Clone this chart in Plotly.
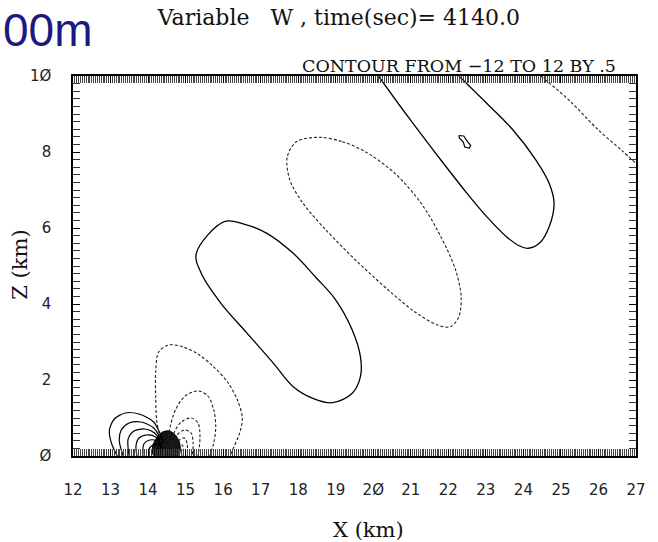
import plotly.graph_objects as go

# ---- Vertical velocity W contours (x in km, z in km) ----
# positive (solid) contours
pos_lobe_x = [16.03, 16.556, 17.166, 17.867, 18.478, 19.002, 19.44, 19.658, 19.658, 19.44,
              18.916, 18.391, 17.867, 17.342, 16.642, 15.942, 15.417, 15.286, 16.03]
pos_lobe_z = [6.166, 6.105, 5.86, 5.334, 4.692, 4.105, 3.316, 2.613, 2.087, 1.65,
              1.403, 1.518, 1.824, 2.439, 3.228, 4.018, 4.808, 5.334, 6.166]

pos_upper_x = [20.138, 20.925, 21.801, 22.498, 23.023, 23.548, 23.899, 24.117, 24.424, 24.686,
               24.817, 24.686, 24.334, 23.723, 23.023, 22.281]
pos_upper_z = [10.0, 8.929, 7.789, 6.913, 6.298, 5.772, 5.526, 5.465, 5.596, 6.034,
               6.65, 7.176, 7.789, 8.579, 9.281, 10.0]

pos_small_x = [22.281, 22.412, 22.478, 22.596, 22.556, 22.438, 22.399, 22.294, 22.281]
pos_small_z = [8.434, 8.421, 8.316, 8.171, 8.105, 8.132, 8.263, 8.368, 8.434]

# positive lobes on the upwind side of the obstacle
pos_mtn1_x = [14.387, 14.151, 13.757, 13.39, 13.101, 12.97, 13.023, 13.18]
pos_mtn1_z = [0.421, 0.895, 1.105, 1.132, 0.974, 0.684, 0.342, 0.0]
pos_mtn2_x = [14.387, 14.151, 13.81, 13.495, 13.285, 13.233, 13.338]
pos_mtn2_z = [0.368, 0.737, 0.895, 0.868, 0.684, 0.395, 0.0]
pos_mtn3_x = [14.387, 14.177, 13.914, 13.626, 13.469, 13.495]
pos_mtn3_z = [0.316, 0.605, 0.711, 0.658, 0.447, 0.0]
pos_mtn4_x = [14.387, 14.203, 13.967, 13.757, 13.678, 13.705]
pos_mtn4_z = [0.263, 0.5, 0.553, 0.474, 0.263, 0.0]
pos_mtn5_x = [14.387, 14.229, 14.046, 13.888, 13.862]
pos_mtn5_z = [0.211, 0.395, 0.421, 0.316, 0.0]
pos_mtn6_x = [14.413, 14.282, 14.124, 14.019, 14.019]
pos_mtn6_z = [0.158, 0.289, 0.289, 0.158, 0.0]
pos_mtn7_x = [14.413, 14.282, 14.177, 14.151]
pos_mtn7_z = [0.105, 0.184, 0.132, 0.0]

# negative (dashed) contours
neg_lobe_x = [18.565, 19.178, 19.789, 20.576, 21.276, 21.801, 22.194, 22.341, 22.281, 22.063,
              21.712, 21.101, 20.4, 19.527, 18.74, 18.129, 17.778, 17.709, 17.953, 18.565]
neg_lobe_z = [8.387, 8.271, 8.008, 7.439, 6.65, 5.771, 4.895, 4.192, 3.666, 3.403,
              3.447, 3.798, 4.368, 5.158, 5.947, 6.65, 7.263, 7.876, 8.271, 8.387]

neg_corner_x = [24.465, 25.21, 25.997, 26.608, 27.0]
neg_corner_z = [10.0, 9.368, 8.579, 8.053, 7.7]

# negative lobes on the lee side of the obstacle
neg_mtn1_x = [14.439, 14.334, 14.229, 14.203, 14.203, 14.282, 14.544, 14.937, 15.331, 15.724,
              16.118, 16.38, 16.511, 16.432, 16.275, 16.196]
neg_mtn1_z = [0.105, 0.421, 0.947, 1.579, 2.211, 2.737, 2.921, 2.868, 2.684, 2.368,
              1.947, 1.474, 1.0, 0.579, 0.211, 0.0]
neg_mtn2_x = [14.491, 14.57, 14.728, 14.99, 15.331, 15.593, 15.75, 15.803, 15.75, 15.645]
neg_mtn2_z = [0.105, 0.684, 1.211, 1.579, 1.711, 1.579, 1.211, 0.763, 0.342, 0.0]
neg_mtn3_x = [14.544, 14.701, 14.885, 15.147, 15.331, 15.383, 15.331]
neg_mtn3_z = [0.079, 0.632, 0.895, 1.0, 0.868, 0.5, 0.0]
neg_mtn4_x = [14.57, 14.754, 14.964, 15.147, 15.2, 15.173]
neg_mtn4_z = [0.079, 0.526, 0.684, 0.605, 0.342, 0.0]
neg_mtn5_x = [14.596, 14.806, 14.964, 15.042, 15.042]
neg_mtn5_z = [0.053, 0.395, 0.474, 0.316, 0.0]
neg_mtn6_x = [14.622, 14.78, 14.911, 14.937]
neg_mtn6_z = [0.026, 0.263, 0.289, 0.0]

# tightly packed contours right over the obstacle
core_x = [14.151, 14.124, 14.229, 14.387, 14.57, 14.728, 14.833, 14.859, 14.806, 14.151]
core_z = [0.0, 0.263, 0.474, 0.632, 0.658, 0.553, 0.368, 0.158, 0.0, 0.0]

# axis ticks
x_ticks = list(range(12, 28))
x_ticktext = [str(v).replace("0", "Ø") for v in x_ticks]
z_ticks = [0, 2, 4, 6, 8, 10]
z_ticktext = [str(v).replace("0", "Ø") for v in z_ticks]

solid_big = [(pos_lobe_x, pos_lobe_z), (pos_upper_x, pos_upper_z)]
solid_near = [(pos_mtn1_x, pos_mtn1_z), (pos_mtn2_x, pos_mtn2_z), (pos_mtn3_x, pos_mtn3_z),
              (pos_mtn4_x, pos_mtn4_z), (pos_mtn5_x, pos_mtn5_z), (pos_mtn6_x, pos_mtn6_z),
              (pos_mtn7_x, pos_mtn7_z)]
dashed = [(neg_lobe_x, neg_lobe_z), (neg_corner_x, neg_corner_z),
          (neg_mtn1_x, neg_mtn1_z), (neg_mtn2_x, neg_mtn2_z), (neg_mtn3_x, neg_mtn3_z),
          (neg_mtn4_x, neg_mtn4_z), (neg_mtn5_x, neg_mtn5_z), (neg_mtn6_x, neg_mtn6_z)]

fig = go.Figure()
fig.add_trace(go.Scatter(x=core_x, y=core_z, mode="lines", fill="toself",
                         fillcolor="rgba(0,0,0,0.92)",
                         line=dict(color="black", width=1, shape="spline", smoothing=0.8),
                         hoverinfo="skip", showlegend=False))
for xs, zs in solid_big:
    fig.add_trace(go.Scatter(x=xs, y=zs, mode="lines",
                             line=dict(color="black", width=1.3, shape="spline", smoothing=1.0),
                             hoverinfo="skip", showlegend=False))
fig.add_trace(go.Scatter(x=pos_small_x, y=pos_small_z, mode="lines",
                         line=dict(color="black", width=1.2),
                         hoverinfo="skip", showlegend=False))
for xs, zs in solid_near:
    fig.add_trace(go.Scatter(x=xs, y=zs, mode="lines",
                             line=dict(color="black", width=1.2, shape="spline", smoothing=0.8),
                             hoverinfo="skip", showlegend=False))
for xs, zs in dashed:
    fig.add_trace(go.Scatter(x=xs, y=zs, mode="lines",
                             line=dict(color="#222", width=1.1, dash="3px,2px",
                                       shape="spline", smoothing=0.9),
                             hoverinfo="skip", showlegend=False))

tick_font = dict(family="DejaVu Sans, sans-serif", size=15, color="#222")
serif = "DejaVu Serif, serif"

fig.update_xaxes(range=[12, 27], tickvals=x_ticks, ticktext=x_ticktext,
                 ticks="inside", ticklen=7, tickwidth=1, tickcolor="black",
                 minor=dict(ticks="inside", dtick=0.05, ticklen=7, tickwidth=1, tickcolor="#444"),
                 showline=True, linecolor="black", linewidth=1.5, mirror="allticks",
                 showgrid=False, zeroline=False, tickfont=tick_font, ticklabelstandoff=19)
fig.update_yaxes(range=[0, 10], tickvals=z_ticks, ticktext=z_ticktext,
                 ticks="inside", ticklen=7, tickwidth=1.2, tickcolor="black",
                 minor=dict(ticks="inside", dtick=0.2, ticklen=7, tickwidth=1, tickcolor="#333"),
                 showline=True, linecolor="black", linewidth=1.5, mirror="allticks",
                 showgrid=False, zeroline=False, tickfont=tick_font, ticklabelstandoff=17)

fig.update_layout(
    width=658, height=542,
    margin=dict(l=73, r=13, t=76, b=86),
    paper_bgcolor="white", plot_bgcolor="white",
    title=dict(text="Variable\u00a0\u00a0\u00a0W , time(sec)= 4140.0", x=0.515, y=0.969,
               xanchor="center", yanchor="middle",
               font=dict(family=serif, size=22, color="#111")),
    annotations=[
        dict(text="00m", xref="paper", yref="paper", x=-0.1276, y=1.121,
             xanchor="left", yanchor="middle", showarrow=False,
             font=dict(family="Liberation Sans, Arial, sans-serif", size=46, color="#1a1a80")),
        dict(text="CONTOUR FROM −12 TO 12 BY .5", xref="paper", yref="paper", x=0.968, y=1.026,
             xanchor="right", yanchor="middle", showarrow=False,
             font=dict(family=serif, size=17.5, color="#111")),
        dict(text="X (km)", xref="paper", yref="paper", x=0.5245, y=-0.195,
             xanchor="center", yanchor="middle", showarrow=False,
             font=dict(family=serif, size=21, color="#111")),
        dict(text="Z (km)", xref="paper", yref="paper", x=-0.0944, y=0.503, textangle=-90,
             xanchor="center", yanchor="middle", showarrow=False,
             font=dict(family=serif, size=21, color="#111")),
    ],
)

fig.write_html("out.html")
